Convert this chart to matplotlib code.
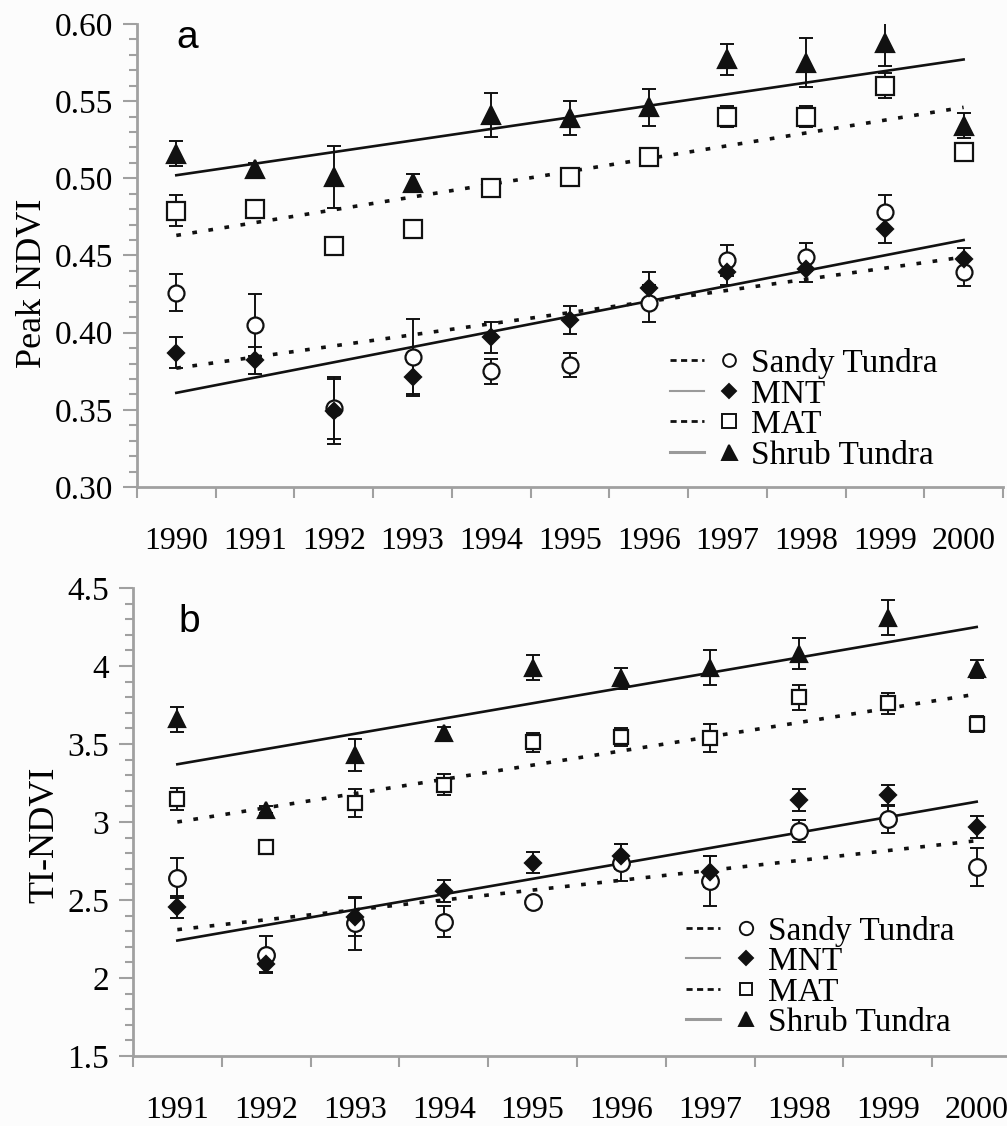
import matplotlib
matplotlib.use("Agg")
import matplotlib.pyplot as plt
from matplotlib.lines import Line2D
from matplotlib.legend_handler import HandlerTuple
from matplotlib.ticker import MultipleLocator, FixedLocator, NullFormatter
import numpy as np

# ------------------------------------------------------------------------------
#   Data
# ------------------------------------------------------------------------------

years_a = ["1990", "1991", "1992", "1993", "1994", "1995",
           "1996", "1997", "1998", "1999", "2000"]
years_b = ["1991", "1992", "1993", "1994", "1995",
           "1996", "1997", "1998", "1999", "2000"]

# Panel a: peak NDVI
sandy_a = [0.426, 0.405, 0.351, 0.384, 0.375, 0.379, 0.419, 0.447, 0.449, 0.478, 0.439]
sandy_a_err = [0.012, 0.020, 0.020, 0.025, 0.008, 0.008, 0.012, 0.010, 0.009, 0.011, 0.009]
mnt_a = [0.387, 0.382, 0.349, 0.371, 0.397, 0.408, 0.429, 0.439, 0.441, 0.467, 0.448]
mnt_a_err = [0.010, 0.009, 0.021, 0.011, 0.010, 0.009, 0.010, 0.008, 0.008, 0.009, 0.007]
mat_a = [0.479, 0.480, 0.456, 0.467, 0.494, 0.501, 0.514, 0.540, 0.540, 0.560, 0.517]
mat_a_err = [0.010, 0.006, 0.0, 0.004, 0.004, 0.003, 0.004, 0.007, 0.007, 0.008, 0.0]
shrub_a = [0.516, 0.506, 0.501, 0.497, 0.541, 0.539, 0.546, 0.577, 0.575, 0.588, 0.534]
shrub_a_err = [0.008, 0.004, 0.020, 0.006, 0.014, 0.011, 0.012, 0.010, 0.016, 0.015, 0.008]

# trend lines, value at first and last year
sandy_a_trend = [0.377, 0.449]
mnt_a_trend = [0.361, 0.460]
mat_a_trend = [0.463, 0.546]
shrub_a_trend = [0.502, 0.577]

# Panel b: TI-NDVI
sandy_b = [2.64, 2.15, 2.35, 2.36, 2.49, 2.74, 2.62, 2.94, 3.02, 2.71]
sandy_b_err = [0.13, 0.12, 0.17, 0.10, 0.0, 0.12, 0.16, 0.07, 0.09, 0.12]
mnt_b = [2.455, 2.09, 2.39, 2.56, 2.74, 2.78, 2.68, 3.14, 3.17, 2.97]
mnt_b_err = [0.07, 0.05, 0.12, 0.07, 0.065, 0.08, 0.10, 0.07, 0.065, 0.07]
mat_b = [3.15, 2.84, 3.12, 3.24, 3.51, 3.545, 3.54, 3.80, 3.76, 3.63]
mat_b_err = [0.07, 0.02, 0.09, 0.07, 0.06, 0.06, 0.09, 0.08, 0.065, 0.05]
shrub_b = [3.66, 3.08, 3.43, 3.57, 3.99, 3.92, 3.99, 4.08, 4.31, 3.98]
shrub_b_err = [0.08, 0.02, 0.10, 0.04, 0.08, 0.07, 0.11, 0.10, 0.11, 0.06]

sandy_b_trend = [2.31, 2.88]
mnt_b_trend = [2.24, 3.13]
mat_b_trend = [3.00, 3.82]
shrub_b_trend = [3.37, 4.25]

labels = ["Sandy Tundra", "MNT", "MAT", "Shrub Tundra"]

# ------------------------------------------------------------------------------
#   Style
# ------------------------------------------------------------------------------

plt.rcParams["font.family"] = ["Liberation Serif", "DejaVu Serif"]
BG = "#fcfcfc"
AXC = "#a0a0a0"
INK = "#111111"
DOT = (0, (1.3, 3.2))

fig = plt.figure(figsize=(10.07, 11.26), dpi=100, facecolor=BG)
ax_a = fig.add_axes([0.136, 0.5675, 0.860, 0.4112])
ax_b = fig.add_axes([0.132, 0.0622, 0.882, 0.4156])

markers = {
    "Sandy Tundra": dict(marker="o", mfc="white", mec=INK),
    "MNT": dict(marker="D", mfc=INK, mec=INK),
    "MAT": dict(marker="s", mfc="white", mec=INK),
    "Shrub Tundra": dict(marker="^", mfc=INK, mec=INK),
}
trend_style = {
    "Sandy Tundra": dict(color=INK, lw=2.6, linestyle=DOT),
    "MNT": dict(color=INK, lw=1.9, linestyle="-"),
    "MAT": dict(color=INK, lw=2.6, linestyle=DOT),
    "Shrub Tundra": dict(color=INK, lw=1.9, linestyle="-"),
}
legend_line = {
    "Sandy Tundra": dict(color=INK, lw=2.0, linestyle=(0, (2.2, 1.6))),
    "MNT": dict(color="#9a9a9a", lw=1.5, linestyle="-"),
    "MAT": dict(color=INK, lw=2.0, linestyle=(0, (2.2, 1.6))),
    "Shrub Tundra": dict(color="#9a9a9a", lw=2.2, linestyle="-"),
}


def draw_panel(ax, years, series, errs, trends, sizes, ylim, major, minor,
               ylabel, label_xy, tag, tag_pos, leg_anchor):
    ax.set_facecolor(BG)
    x = np.arange(len(years))
    for name, vals, err, tr in zip(labels, series, errs, trends):
        ax.plot([x[0], x[-1]], tr, zorder=2, **trend_style[name])
        ax.errorbar(x, vals, yerr=err, fmt="none", ecolor=INK, elinewidth=1.4,
                    capsize=5, capthick=1.4, zorder=3)
        ax.plot(x, vals, linestyle="none", ms=sizes[name], mew=1.6, zorder=4,
                **markers[name])

    ax.set_xlim(-0.5, len(years) - 0.5)
    ax.set_ylim(*ylim)
    ax.xaxis.set_major_locator(FixedLocator(np.arange(-0.5, len(years), 1.0)))
    ax.xaxis.set_major_formatter(NullFormatter())
    ax.xaxis.set_minor_locator(FixedLocator(x))
    ax.set_xticklabels(years, minor=True)
    ax.tick_params(axis="x", which="major", direction="out", length=8,
                   width=1.5, color=AXC)
    ax.tick_params(axis="x", which="minor", length=0, pad=29, labelsize=23)
    ax.yaxis.set_major_locator(MultipleLocator(major))
    ax.yaxis.set_minor_locator(MultipleLocator(minor))
    ax.tick_params(axis="y", which="major", direction="out", length=10,
                   width=1.5, color=AXC, labelsize=24, pad=7)
    ax.tick_params(axis="y", which="minor", direction="out", length=6,
                   width=1.5, color=AXC)
    for side in ("top", "right"):
        ax.spines[side].set_visible(False)
    for side in ("left", "bottom"):
        ax.spines[side].set_color(AXC)
        ax.spines[side].set_linewidth(2.0)

    ax.set_ylabel(ylabel, fontsize=26)
    ax.yaxis.set_label_coords(*label_xy)
    ax.text(tag_pos[0], tag_pos[1], tag, transform=ax.transAxes,
            fontsize=28, family=["Liberation Sans", "DejaVu Sans"],
            va="baseline", ha="left")

    handles = []
    for name in labels:
        ln = Line2D([], [], **legend_line[name])
        mk = Line2D([], [], linestyle="none", ms=sizes[name] * 0.8, mew=1.4,
                    **markers[name])
        handles.append((ln, mk))
    ax.legend(handles, labels, handler_map={tuple: HandlerTuple(ndivide=None, pad=0.25)},
              loc="upper left", bbox_to_anchor=leg_anchor, frameon=False,
              fontsize=24, handlelength=2.3, handletextpad=0.15,
              labelspacing=0.0, borderpad=0, borderaxespad=0)


draw_panel(ax_a, years_a,
           [sandy_a, mnt_a, mat_a, shrub_a],
           [sandy_a_err, mnt_a_err, mat_a_err, shrub_a_err],
           [sandy_a_trend, mnt_a_trend, mat_a_trend, shrub_a_trend],
           {"Sandy Tundra": 11.5, "MNT": 8.4, "MAT": 12.5, "Shrub Tundra": 13.5},
           (0.30, 0.60), 0.05, 0.01, "Peak NDVI", (-0.102, 0.44),
           "a", (0.046, 0.948), (0.615, 0.30))
ax_a.yaxis.set_major_formatter(matplotlib.ticker.FormatStrFormatter("%.2f"))

draw_panel(ax_b, years_b,
           [sandy_b, mnt_b, mat_b, shrub_b],
           [sandy_b_err, mnt_b_err, mat_b_err, shrub_b_err],
           [sandy_b_trend, mnt_b_trend, mat_b_trend, shrub_b_trend],
           {"Sandy Tundra": 12, "MNT": 8.4, "MAT": 10.5, "Shrub Tundra": 12},
           (1.5, 4.5), 0.5, 0.1, "TI-NDVI", (-0.080, 0.472),
           "b", (0.051, 0.906), (0.623, 0.30))
ax_b.yaxis.set_major_formatter(
    matplotlib.ticker.FuncFormatter(lambda v, p: f"{v:g}"))

fig.savefig("out.png", dpi=100, facecolor=BG)
